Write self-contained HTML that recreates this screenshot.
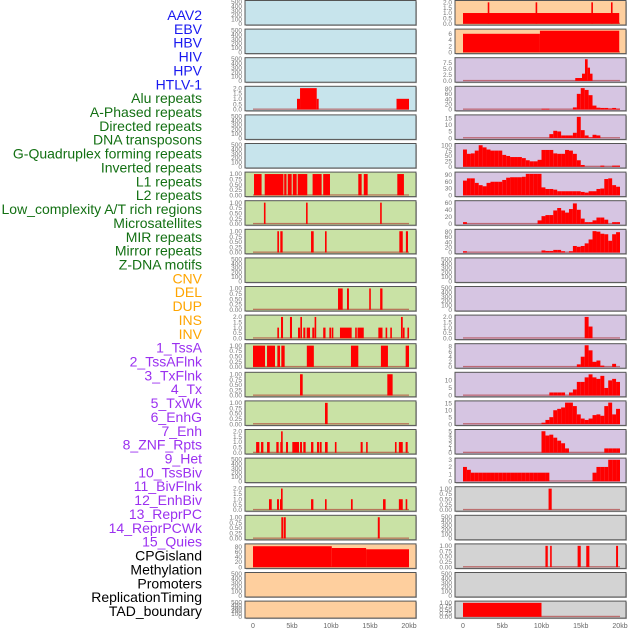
<!DOCTYPE html>
<html><head><meta charset="utf-8">
<style>
html,body{margin:0;padding:0;background:#fff;width:630px;height:630px;overflow:hidden}
svg{display:block;font-family:"Liberation Sans",sans-serif}
</style></head>
<body>
<svg id="chart" width="630" height="630" viewBox="0 0 630 630"></svg>
<script>
// ---------- labels ----------
const trackLabels = ["AAV2","EBV","HBV","HIV","HPV","HTLV-1","Alu repeats","A-Phased repeats","Directed repeats","DNA transposons","G-Quadruplex forming repeats","Inverted repeats","L1 repeats","L2 repeats","Low_complexity A/T rich regions","Microsatellites","MIR repeats","Mirror repeats","Z-DNA motifs","CNV","DEL","DUP","INS","INV","1_TssA","2_TssAFlnk","3_TxFlnk","4_Tx","5_TxWk","6_EnhG","7_Enh","8_ZNF_Rpts","9_Het","10_TssBiv","11_BivFlnk","12_EnhBiv","13_ReprPC","14_ReprPCWk","15_Quies","CPGisland","Methylation","Promoters","ReplicationTiming","TAD_boundary"];
const labelGroups = [6,13,5,15,5];
const xTickKb = [0,5,10,15,20];
const xTickLabels = ["0","5kb","10kb","15kb","20kb"];

// ---------- left column data [startKb, endKb, value] ----------
const leftAlu = [[5.64,6.03,1],[6.03,8.17,2],[8.17,8.42,1],[18.4,20.0,1]];
const leftL1 = [[0.13,1.1,1],[1.5,3.9,1],[4.0,4.3,1],[4.45,4.96,1],[5.1,5.6,1],[5.73,6.96,1],[7.64,8.8,1],[9.0,9.87,1],[13.5,13.93,1],[14.2,14.7,1],[18.5,19.35,1]];
const leftL2 = [[1.4,1.6,1],[6.8,7.0,1],[16.3,16.5,1]];
const leftLowc = [[3.12,3.33,1],[3.5,3.8,1],[7.44,7.78,1],[9.23,9.44,1],[18.76,19.2,1],[19.6,19.87,1]];
const leftMir = [[10.9,11.5,1],[12.05,12.3,1],[14.9,15.1,1],[16.3,16.6,1]];
const leftMirror = [[3.12,3.33,1],[3.59,3.85,2],[4.74,5.0,2],[5.77,6.03,1],[6.07,6.28,2],[6.45,6.71,1],[6.88,7.31,1],[7.6,7.86,1],[7.9,8.08,2],[9.0,9.3,1],[9.79,10.0,1],[10.08,10.3,1],[11.15,12.65,1],[13.1,13.3,1],[13.4,14.2,1],[16.07,16.6,1],[17.0,17.2,1],[17.6,17.78,1],[18.97,19.2,2],[19.23,19.4,1],[19.8,20.0,1]];
const leftTssA = [[0,1.54,1],[1.8,2.82,1],[3.12,3.46,1],[3.63,4.06,1],[6.9,7.8,1],[12.56,13.5,1],[16.4,17.3,1],[19.57,20,1]];
const leftTssAFlnk = [[6.03,6.37,1],[17.22,17.9,1]];
const leftTxFlnk = [[9.23,9.57,1]];
const leftTx = [[0.4,0.81,1],[1.03,1.33,1],[1.8,2.14,1],[2.99,3.29,1],[3.5,3.8,1],[3.6,3.75,2],[4.23,4.49,1],[5.04,5.9,1],[6.03,6.28,1],[6.45,6.75,1],[7.44,7.74,1],[8.2,8.46,1],[8.55,8.8,1],[9.23,9.57,1],[10.5,10.7,1],[13.8,14.06,1],[14.5,14.7,1],[18.2,18.4,1],[18.7,19.2,1],[19.57,19.83,1]];
const leftEnhG = [[2.05,2.4,1],[3.08,3.33,1],[3.46,3.59,1],[3.59,3.8,2],[7.44,7.74,1],[9.23,9.44,1],[12.56,12.78,1],[16.67,17.0,1],[18.7,19.2,1],[19.57,19.78,1]];
const leftEnh = [[3.63,3.9,1],[3.97,4.2,1],[16.0,16.25,1]];
const leftCpg = [[0,10.1,82],[10.1,14.5,75],[14.5,20.0,70]];

// ---------- right column data ----------
const rightA = [[0,19.9,1],[3.15,3.32,2],[9.25,9.42,2],[16.35,16.52,2],[18.85,19.02,2]];
const rightB = [[0,9.8,6],[9.8,19.9,7]];
const rightC = [[14.3,15.16,1.2],[15.16,15.54,3],[15.54,15.88,9],[15.88,16.18,5.5],[16.18,16.5,3]];
// 0.5kb bins, 40 per track
const rightD = [0,0,0,0,0,0,0,0,0,0,0,0,0,0,0,0,0,0,0,0,3,3,0,0,0,0,0,0,8,60,82,75,55,15,7,6,6,4,6,3];
const rightE = [0,0,0,0,0,0,0,0,0,0,0,0,0,0,0,0,0,0,0,0,0,0,3,5.5,5,2,2,2,4,16,6,2,0.5,2.5,2,0,0,0,0,0];
const rightF = [80,60,62,75,100,90,80,75,75,75,55,50,45,45,45,40,30,25,25,32,78,78,78,62,60,60,78,75,60,30,8,0,0,0,0,5,0,0,5,5];
const rightG = [65,75,75,55,45,40,55,60,60,60,68,78,80,80,80,82,95,95,95,95,35,28,28,25,18,18,18,18,18,18,15,12,18,18,28,30,72,75,45,38];
const rightH = [5,0,0,0,0,0,0,0,0,0,0,0,0,0,0,0,0,0,0,10,22,25,25,38,45,38,32,42,58,40,15,5,5,10,18,18,12,0,5,5];
const rightI = [5,0,0,0,0,0,0,0,0,0,0,0,0,0,0,0,0,0,0,0,8,6,6,10,10,5,0,5,25,22,25,35,50,82,80,72,70,45,70,78];
const rightL = [0,0,0,0,0,0,0,0,0,0,0,0,0,0,0,0,0,0,0,0,0,0,0,0,0,0,0,0,0,0,0,2,1.1,0,0,0,0,0,0,0];
const rightM = [0,0,0,0,0,0,0,0,0,0,0,0,0,0,0,0,0,0,0,0,0,0,0,0,0,0,0,0,0,1,4,8.5,6.5,2,2.5,0.5,0,0,1.2,0];
const rightN = [0,0,0,0,0,0,0,0,0,0,0,0,0,0,0,0,0,0,0,0,0,0,2,2,2,2,0,2,4,9,9,12,14,12,11,13,5,10,11,9];
const rightO = [0,0,0,0,0,0,0,0,0,0,0,0,0,0,0,0,0,0,0,0,1,3,5,10,11,12,15.5,15.5,13,7,4,3,4,6.5,7,6,13,15.5,7,11];
const rightP = [0,0,0,0,0,0,0,0,0,0,0,0,0,0,0,0,0,0,0,0,5,4,4.2,3.5,2.8,2.2,1,0,0,0,0,0,0,0,0,0,1,1,1,1];
const rightQ = [2,1.6,1.2,1.2,1.2,1.2,1.2,1.2,1.2,1.2,1.2,1.2,1.2,1.2,1.2,1.2,1.2,1.2,1.2,1.2,1.2,1.2,0,0,0,0,0,0,0,0,0,0,0,1.2,2,2,2,3,3,3];
const rightR = [[10.9,11.3,1]];
const rightT = [[10.5,10.8,1],[11.1,11.3,1],[14.6,15.0,1],[15.7,16.1,1],[19.5,19.75,1]];
const rightV = [[0,10,1]];

// tick sets
const tEmpty = [0,100,200,300,400,500], tEmptyL = ["0","100","200","300","400","500"];
const t2 = [0,0.5,1,1.5,2], t2L = ["0.0","0.5","1.0","1.5","2.0"];
const t1 = [0,0.25,0.5,0.75,1], t1L = ["0.00","0.25","0.50","0.75","1.00"];

const BLUE="#c7e4ec", GREEN="#c9e2a5", ORANGE="#fecf9e", PURPLE="#d6c5e2", GRAY="#d3d3d3";

function binsToBars(b){const out=[];b.forEach((v,i)=>{if(v>0)out.push([i*0.5,i*0.5+0.5,v]);});return out;}

const E=null;
const leftPanels = [
 [BLUE,500,tEmpty,tEmptyL,E],[BLUE,500,tEmpty,tEmptyL,E],[BLUE,500,tEmpty,tEmptyL,E],
 [BLUE,2.05,t2,t2L,leftAlu],[BLUE,500,tEmpty,tEmptyL,E],[BLUE,500,tEmpty,tEmptyL,E],
 [GREEN,1.03,t1,t1L,leftL1],[GREEN,1.03,t1,t1L,leftL2],[GREEN,1.03,t1,t1L,leftLowc],
 [GREEN,500,tEmpty,tEmptyL,E],[GREEN,1.03,t1,t1L,leftMir],[GREEN,2.05,t2,t2L,leftMirror],
 [GREEN,1.03,t1,t1L,leftTssA],[GREEN,1.03,t1,t1L,leftTssAFlnk],[GREEN,1.03,t1,t1L,leftTxFlnk],
 [GREEN,2.05,t2,t2L,leftTx],[GREEN,500,tEmpty,tEmptyL,E],[GREEN,2.05,t2,t2L,leftEnhG],
 [GREEN,1.03,t1,t1L,leftEnh],[ORANGE,86,[0,20,40,60,80],["0","20","40","60","80"],leftCpg],
 [ORANGE,500,tEmpty,tEmptyL,E],[ORANGE,500,tEmpty,tEmptyL,E]
];
const rightPanels = [
 [ORANGE,2.05,t2,t2L,rightA],[ORANGE,7.1,[0,2,4,6],["0","2","4","6"],rightB],
 [PURPLE,9.1,[0,2.5,5,7.5],["0.0","2.5","5.0","7.5"],rightC],
 [PURPLE,84,[0,20,40,60,80],["0","20","40","60","80"],binsToBars(rightD)],
 [PURPLE,16.5,[0,5,10,15],["0","5","10","15"],binsToBars(rightE)],
 [PURPLE,102,[0,25,50,75,100],["0","25","50","75","100"],binsToBars(rightF)],
 [PURPLE,97,[0,30,60,90],["0","30","60","90"],binsToBars(rightG)],
 [PURPLE,62,[0,20,40,60],["0","20","40","60"],binsToBars(rightH)],
 [PURPLE,84,[0,20,40,60,80],["0","20","40","60","80"],binsToBars(rightI)],
 [PURPLE,500,tEmpty,tEmptyL,E],[PURPLE,500,tEmpty,tEmptyL,E],
 [PURPLE,2.05,t2,t2L,binsToBars(rightL)],
 [PURPLE,8.6,[0,2,4,6,8],["0","2","4","6","8"],binsToBars(rightM)],
 [PURPLE,14.5,[0,5,10],["0","5","10"],binsToBars(rightN)],
 [PURPLE,15.8,[0,5,10,15],["0","5","10","15"],binsToBars(rightO)],
 [PURPLE,5.1,[0,1,2,3,4,5],["0","1","2","3","4","5"],binsToBars(rightP)],
 [PURPLE,3.05,[0,1,2,3],["0","1","2","3"],binsToBars(rightQ)],
 [GRAY,1.03,t1,t1L,rightR],[GRAY,500,tEmpty,tEmptyL,E],[GRAY,1.03,t1,t1L,rightT],
 [GRAY,500,tEmpty,tEmptyL,E],[GRAY,1.03,t1,t1L,rightV]
];

const NS="http://www.w3.org/2000/svg";
const svg=document.getElementById('chart');
function mk(tag,attrs,parent){const e=document.createElementNS(NS,tag);for(const k in attrs)e.setAttribute(k,attrs[k]);(parent||svg).appendChild(e);return e;}

// labels
const groupColors=["#1818f0","#137013","#ffa500","#9b30f0","#000000"];
let gi=0,cnt=0;
const labelG=mk('g',{});


trackLabels.forEach((t,i)=>{
  if(cnt>=labelGroups[gi]){gi++;cnt=0;}
  cnt++;
  const tx=mk('text',{x:202,y:15+i*13.86+5,'text-anchor':'end','font-size':14,fill:groupColors[gi]},labelG);
  tx.textContent=t;
  
  
});

function drawColumn(panels,boxX,x0,pxkb,colName){
  const g=mk('g',{});
  
  
  const xs=kb=>x0+kb*pxkb;
  panels.forEach((p,row)=>{
    const [bg,ymax,ticks,tl,bars]=p;
    const short=row===21;
    const top=row*28.6+0.5, h=short?17:24.5;
    const base=top+h-1.3, span=h-2.6;
    const ys=v=>base-v/ymax*span;
    const pg=mk('g',{},g);
    
    
    mk('rect',{x:boxX+1,y:top+1,width:171,height:h,fill:'#bbb'},pg);
    const r=mk('rect',{x:boxX,y:top,width:171,height:h,fill:bg,stroke:'#555','stroke-width':1},pg);
    
    
    ticks.forEach((tv,k)=>{
      const t=mk('text',{x:boxX-3,y:ys(tv)+2.2,'text-anchor':'end','font-size':6.5,fill:'#777'},pg);
      t.textContent=tl[k];
      
      
    });
    if(bars){
      const bl=mk('rect',{x:xs(0),y:base-1,width:xs(20)-xs(0),height:1.3,fill:'rgba(170,30,30,0.55)'},pg);
      
      
      bars.forEach(b=>{
        const w=Math.max(1.6,xs(b[1])-xs(b[0]));
        const br=mk('rect',{x:xs(b[0]),y:ys(b[2]),width:w,height:base-ys(b[2]),fill:'#ff0000'},pg);
        
        
      });
    }
  });
  xTickKb.forEach((kb,i)=>{
    const t=mk('text',{x:xs(kb),y:628,'text-anchor':'middle','font-size':7,fill:'#666'},g);
    t.textContent=xTickLabels[i];
    
    
  });
}
drawColumn(leftPanels,245,253,7.8,'left-column');
drawColumn(rightPanels,455,463,7.85,'right-column');
</script>
</body></html>
